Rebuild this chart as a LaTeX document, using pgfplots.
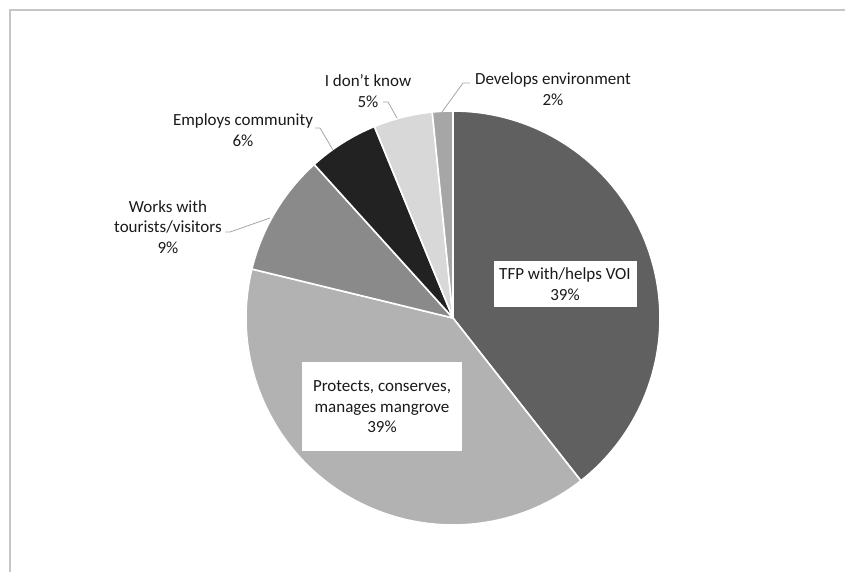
\documentclass[border=0pt]{standalone}
\usepackage{pgfplots}
\pgfplotsset{compat=1.18}
\usepackage{fontspec}
\setmainfont{Carlito}
\definecolor{cTFP}{HTML}{606060}
\definecolor{cPro}{HTML}{B2B2B2}
\definecolor{cWor}{HTML}{8A8A8A}
\definecolor{cEmp}{HTML}{222222}
\definecolor{cIdk}{HTML}{D8D8D8}
\definecolor{cDev}{HTML}{A6A6A6}
\definecolor{lead}{HTML}{A6A6A6}
\definecolor{txt}{HTML}{1A1A1A}
\tikzset{lbl/.style={font=\fontsize{17bp}{20.5bp}\selectfont, text=txt, align=center}}
% slice: #1 cumulative start (%), #2 share (%), #3 colour
\newcommand\slice[3]{%
  \addplot[fill=#3, draw=white, line width=1.6bp, line join=round, domain={90-3.6*(#1+#2)}:{90-3.6*(#1)}, samples=80]
    ({453+207*cos(x)},{254+207*sin(x)}) -- (axis cs:453,254) -- cycle;
}
\begin{document}
\begin{tikzpicture}
\begin{axis}[width=845bp, height=572bp, scale only axis,
  xmin=0, xmax=845, ymin=0, ymax=572, hide axis, clip=false]
% shares (percent): TFP 39.4, Protects 39.4, Works 9.5, Employs 5.5, I don't know 4.6, Develops 1.6
\slice{0}{39.4}{cTFP}
\slice{39.4}{39.4}{cPro}
\slice{78.8}{9.5}{cWor}
\slice{88.3}{5.5}{cEmp}
\slice{93.8}{4.6}{cIdk}
\slice{98.4}{1.6}{cDev}
\coordinate (bl) at (axis cs:0,0);
\coordinate (tr) at (axis cs:845,572);
% chart border
\draw[color=gray!45, line width=2bp] (axis cs:845,562) -- (axis cs:10,562) -- (axis cs:10,0);
% leader lines
\draw[lead, line width=0.8bp] (axis cs:225,340) -- (axis cs:230,340) -- (axis cs:270,354);
\draw[lead, line width=0.8bp] (axis cs:315,444) -- (axis cs:320,444) -- (axis cs:333,422);
\draw[lead, line width=0.8bp] (axis cs:383,470) -- (axis cs:388,470) -- (axis cs:397,454);
\draw[lead, line width=0.8bp] (axis cs:470,489) -- (axis cs:463,489) -- (axis cs:442,460);
% labels
\node[lbl, fill=white, minimum width=143bp, minimum height=46bp, inner sep=2bp] at (axis cs:565,288) {TFP with/helps VOI\\39\%};
\node[lbl, fill=white, minimum width=160bp, minimum height=89bp, inner sep=2bp] at (axis cs:382,165) {Protects, conserves,\\manages mangrove\\39\%};
\node[lbl] at (axis cs:168,345) {Works with\\tourists/visitors\\9\%};
\node[lbl] at (axis cs:243,442) {Employs community\\6\%};
\node[lbl] at (axis cs:368,481) {I don’t know\\5\%};
\node[lbl] at (axis cs:553,483) {Develops environment\\2\%};
\end{axis}
\pgfresetboundingbox
\path[use as bounding box] (bl) rectangle (tr);
\end{tikzpicture}
\end{document}
